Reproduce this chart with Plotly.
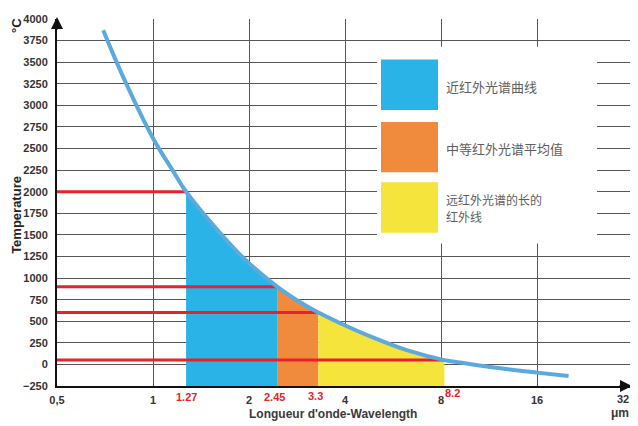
import math
import plotly.graph_objects as go

# ---- data ----
wavelength = [0.698, 0.806, 1.0, 1.16, 1.27, 1.87, 2.45, 2.85, 3.3, 3.85, 4.91, 6.25, 8.2, 9.16, 11.4, 16.0, 20.1]
temperature = [3870, 3330, 2620, 2230, 2000, 1275, 900, 735, 600, 480, 310, 165, 50, 22, -30, -95, -135]

band_edges = [1.27, 2.45, 3.3, 8.2]
band_levels = [2000, 900, 600, 50]
band_edge_labels = ["1.27", "2.45", "3.3", "8.2"]
band_names = ["近红外光谱曲线", "中等红外光谱平均值", "远红外光谱的长的", "红外线"]
band_colors = ["#2AB3E6", "#F08A3C", "#F5E43B"]

x_tickvals = [0.5, 1, 2, 4, 8, 16, 32]
x_ticktext = ["0,5", "1", "2", "4", "8", "16", "32"]
y_min, y_max = -250, 4000

RED = "#E5232B"
CURVE = "#5BA9DD"
GRID = "#555555"

fig = go.Figure()

# filled bands under the curve
for i in range(3):
    a, b = band_edges[i], band_edges[i + 1]
    xs = [w for w in wavelength if a - 1e-9 <= w <= b + 1e-9]
    ys = [t for w, t in zip(wavelength, temperature) if a - 1e-9 <= w <= b + 1e-9]
    fig.add_trace(go.Scatter(x=[a, b], y=[y_min, y_min], mode="lines",
                             line=dict(width=0, color="rgba(0,0,0,0)"),
                             hoverinfo="skip", showlegend=False))
    fig.add_trace(go.Scatter(x=xs, y=ys, mode="lines", fill="tonexty",
                             fillcolor=band_colors[i],
                             line=dict(width=0, color=band_colors[i], shape="spline"),
                             hoverinfo="skip", showlegend=False))

# red level lines
for e, lv in zip(band_edges, band_levels):
    fig.add_trace(go.Scatter(x=[0.5, e], y=[lv, lv], mode="lines",
                             line=dict(color=RED, width=3),
                             hoverinfo="skip", showlegend=False))

# main curve
fig.add_trace(go.Scatter(x=wavelength, y=temperature, mode="lines",
                         line=dict(color=CURVE, width=4, shape="spline", smoothing=1),
                         showlegend=False))

# page pixel -> paper coordinate helpers (plot area spans x 57..633, y 15..386 on the page)
def px_x(p):
    return (p - 57) / 576.0

def px_y(p):
    return (386 - p) / 371.0

shapes = []
shapes.append(dict(type="line", xref="paper", yref="paper", x0=1, x1=1, y0=0, y1=1,
                   line=dict(color=GRID, width=1), layer="below"))

# legend box
shapes.append(dict(type="rect", xref="paper", yref="paper",
                   x0=px_x(377), x1=px_x(597), y0=px_y(242), y1=px_y(43),
                   fillcolor="white", line=dict(width=0), layer="above"))
squares = [(56, 107), (119, 170), (180, 231)]
for (t, b), c in zip(squares, band_colors):
    shapes.append(dict(type="rect", xref="paper", yref="paper",
                       x0=px_x(381), x1=px_x(438), y0=px_y(b), y1=px_y(t),
                       fillcolor=c, line=dict(width=0), layer="above"))

annotations = []
text_y = [83, 146, 197, 215]
text_size = [13, 13, 12, 12]
for name, ty, fs in zip(band_names, text_y, text_size):
    annotations.append(dict(xref="paper", yref="paper", x=px_x(445), y=px_y(ty),
                            xanchor="left", yanchor="middle", align="left",
                            text=name, showarrow=False, borderpad=0,
                            font=dict(family="Noto Sans CJK SC", size=fs, color="#5e5e5e")))

# red edge labels under the axis
label_shift = [(0, -11), (-3, -11), (-3, -10), (8, -7)]
for e, lab, (dx, dy) in zip(band_edges, band_edge_labels, label_shift):
    annotations.append(dict(xref="x", yref="paper", x=math.log10(e), y=0,
                            xanchor="center", yanchor="middle", xshift=dx, yshift=dy,
                            text=lab, showarrow=False,
                            font=dict(family="Liberation Sans, Arial", size=11, color=RED, weight="bold")))

# last x tick label, kept inside the page edge
annotations.append(dict(xref="paper", yref="paper", x=px_x(631), y=0, yshift=-13,
                        xanchor="right", yanchor="middle", text=x_ticktext[-1], showarrow=False,
                        font=dict(family="Liberation Sans, Arial", size=11, color="#333333", weight="bold")))

# axis titles
annotations.append(dict(xref="paper", yref="paper", x=px_x(333), y=px_y(414),
                        xanchor="center", yanchor="middle", text="Longueur d'onde-Wavelength",
                        showarrow=False,
                        font=dict(family="Liberation Sans, Arial", size=12, color="#3a3a3a", weight="bold")))
annotations.append(dict(xref="paper", yref="paper", x=px_x(631), y=px_y(413),
                        xanchor="right", yanchor="middle", text="μm", showarrow=False,
                        font=dict(family="Liberation Sans, Arial", size=12, color="#3a3a3a", weight="bold")))
annotations.append(dict(xref="paper", yref="paper", x=px_x(17), y=px_y(213),
                        xanchor="center", yanchor="middle", text="Temperature", textangle=-90,
                        showarrow=False,
                        font=dict(family="Liberation Sans, Arial", size=13, color="#222222", weight="bold")))
annotations.append(dict(xref="paper", yref="paper", x=px_x(17), y=px_y(22),
                        xanchor="center", yanchor="middle", text="°C", textangle=-90,
                        showarrow=False,
                        font=dict(family="Liberation Sans, Arial", size=13, color="#222222", weight="bold")))

# axis arrows
annotations.append(dict(xref="paper", yref="paper", x=0, y=px_y(13), ax=0, ay=14,
                        axref="pixel", ayref="pixel", text="", showarrow=True,
                        arrowhead=2, arrowsize=1.2, arrowwidth=2, arrowcolor="#111111"))
annotations.append(dict(xref="paper", yref="paper", x=px_x(632), y=0, ax=-14, ay=0,
                        axref="pixel", ayref="pixel", text="", showarrow=True,
                        arrowhead=2, arrowsize=1.2, arrowwidth=2, arrowcolor="#111111"))

# the page has an 8px body margin, so the figure is sized / offset to compensate
fig.update_layout(
    width=630, height=418,
    margin=dict(l=49, r=5, t=7, b=40),
    paper_bgcolor="white", plot_bgcolor="white",
    showlegend=False,
    shapes=shapes, annotations=annotations,
    xaxis=dict(type="log", range=[math.log10(0.5), math.log10(32)],
               tickvals=x_tickvals[:-1], ticktext=x_ticktext[:-1],
               showgrid=True, gridcolor=GRID, gridwidth=1,
               showline=True, linecolor="#111111", linewidth=2,
               ticks="outside", ticklen=3, tickcolor="rgba(0,0,0,0)",
               tickfont=dict(family="Liberation Sans, Arial", size=11, color="#333333", weight="bold"),
               zeroline=False, fixedrange=True),
    yaxis=dict(range=[y_min, y_max], dtick=250, tick0=0,
               showgrid=True, gridcolor=GRID, gridwidth=1,
               showline=True, linecolor="#111111", linewidth=2,
               ticks="outside", ticklen=5, tickcolor="rgba(0,0,0,0)",
               tickfont=dict(family="Liberation Sans, Arial", size=11, color="#333333", weight="bold"),
               zeroline=False, fixedrange=True),
)

fig.write_html("out.html")
